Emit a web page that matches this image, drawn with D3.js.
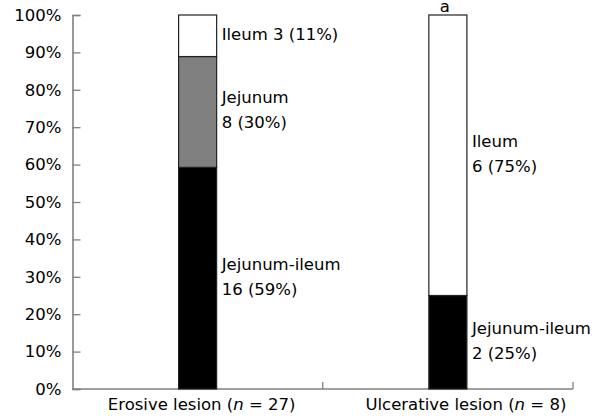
<!DOCTYPE html>
<html>
<head>
<meta charset="utf-8">
<script src="https://cdn.jsdelivr.net/npm/d3@7"></script>
<style>
  body { margin: 0; background: #fff; }
  svg { display: block; font-family: "DejaVu Sans", sans-serif; font-size: 16.5px; }
</style>
</head>
<body>
<div id="chart"></div>
<script>
// chart data
const categories = ["Erosive lesion", "Ulcerative lesion"];
const groupN = [27, 8];
const segmentNames = ["Jejunum-ileum", "Jejunum", "Ileum"];
const segmentColors = ["#000000", "#808080", "#ffffff"];
const erosiveCounts = [16, 8, 3];
const ulcerativeCounts = [2, 0, 6];
const oneLineLabel = [[false, false, true], [false, false, false]];
const sigMarks = ["", "a"];
const yTicks = [0, 0.1, 0.2, 0.3, 0.4, 0.5, 0.6, 0.7, 0.8, 0.9, 1];

const width = 600, height = 420;
const margin = {top: 15, right: 27, bottom: 31, left: 72.5};

const svg = d3.select("#chart").append("svg")
  .attr("width", width)
  .attr("height", height);

const x = d3.scaleBand()
  .domain(categories)
  .range([margin.left, width - margin.right])
  .padding(0);

const y = d3.scaleLinear()
  .domain([0, 1])
  .range([height - margin.bottom, margin.top]);

const barW = x.bandwidth() * 0.152;
const countsByGroup = [erosiveCounts, ulcerativeCounts];

// build stacked segments
const groups = categories.map((c, i) => {
  let acc = 0;
  const segs = countsByGroup[i].map((v, j) => {
    const s = {name: segmentNames[j], count: v, y0: acc / groupN[i], y1: (acc + v) / groupN[i],
               color: segmentColors[j], oneLine: oneLineLabel[i][j]};
    acc += v;
    return s;
  }).filter(s => s.count > 0);
  return {cat: c, n: groupN[i], segs, mark: sigMarks[i]};
});

// y axis
const yAxis = svg.append("g")
  .attr("transform", `translate(${margin.left},0)`)
  .call(d3.axisLeft(y).tickValues(yTicks).tickFormat(d3.format(".0%")).tickSize(-8).tickPadding(11));
yAxis.select(".domain").attr("stroke", "#808080").attr("stroke-width", 1.6);
yAxis.selectAll(".tick line").attr("stroke", "#808080").attr("stroke-width", 1.3);
yAxis.selectAll(".tick text").attr("fill", "#000").style("font-size", "16.5px").style("font-family", "DejaVu Sans");

// x axis line with boundary ticks
const xAxis = svg.append("g");
xAxis.append("line")
  .attr("x1", x.range()[0]).attr("x2", x.range()[1])
  .attr("y1", y(0)).attr("y2", y(0))
  .attr("stroke", "#808080").attr("stroke-width", 1.6);
const bounds = categories.slice(1).map(c => x(c)).concat([x.range()[1]]);
xAxis.selectAll("line.bt")
  .data(bounds)
  .join("line")
  .attr("class", "bt")
  .attr("x1", d => d).attr("x2", d => d)
  .attr("y1", y(0)).attr("y2", y(0) - 7)
  .attr("stroke", "#808080").attr("stroke-width", 1.3);

// bars
const g = svg.selectAll("g.group")
  .data(groups)
  .join("g")
  .attr("class", "group");

g.selectAll("rect")
  .data(d => d.segs.map(s => Object.assign({cat: d.cat}, s)))
  .join("rect")
  .attr("x", d => x(d.cat) + x.bandwidth() / 2 - barW / 2)
  .attr("width", barW)
  .attr("y", d => y(d.y1))
  .attr("height", d => y(d.y0) - y(d.y1))
  .attr("fill", d => d.color)
  .attr("stroke", "#222")
  .attr("stroke-width", 1.2);

// segment labels
const lineH = 25;
g.selectAll("text.seg")
  .data(d => d.segs.map(s => Object.assign({cat: d.cat, n: d.n}, s)))
  .join("text")
  .attr("class", "seg")
  .attr("x", d => x(d.cat) + x.bandwidth() / 2 + barW / 2 + 5)
  .attr("y", d => y((d.y0 + d.y1) / 2))
  .each(function(d) {
    const pct = Math.round(d.count / d.n * 100);
    const lines = d.oneLine ? [`${d.name} ${d.count} (${pct}%)`] : [d.name, `${d.count} (${pct}%)`];
    const t = d3.select(this);
    const x0 = t.attr("x");
    lines.forEach((l, i) => {
      t.append("tspan")
        .attr("x", x0)
        .attr("dy", i === 0 ? (-(lines.length - 1) / 2 * lineH + 4) : lineH)
        .text(l);
    });
  });

// significance mark
g.append("text")
  .attr("x", d => x(d.cat) + x.bandwidth() / 2 - 3)
  .attr("y", d => y(1) - 3)
  .attr("text-anchor", "middle")
  .text(d => d.mark);

// category labels
const labelShift = [4, 18];
svg.selectAll("text.cat")
  .data(groups)
  .join("text")
  .attr("class", "cat")
  .attr("x", (d, i) => x(d.cat) + x.bandwidth() / 2 + labelShift[i])
  .attr("y", y(0) + 21)
  .attr("text-anchor", "middle")
  .each(function(d) {
    const t = d3.select(this);
    t.append("tspan").text(d.cat + " (");
    t.append("tspan").style("font-style", "italic").text("n");
    t.append("tspan").text(" = " + d.n + ")");
  });
</script>
</body>
</html>
